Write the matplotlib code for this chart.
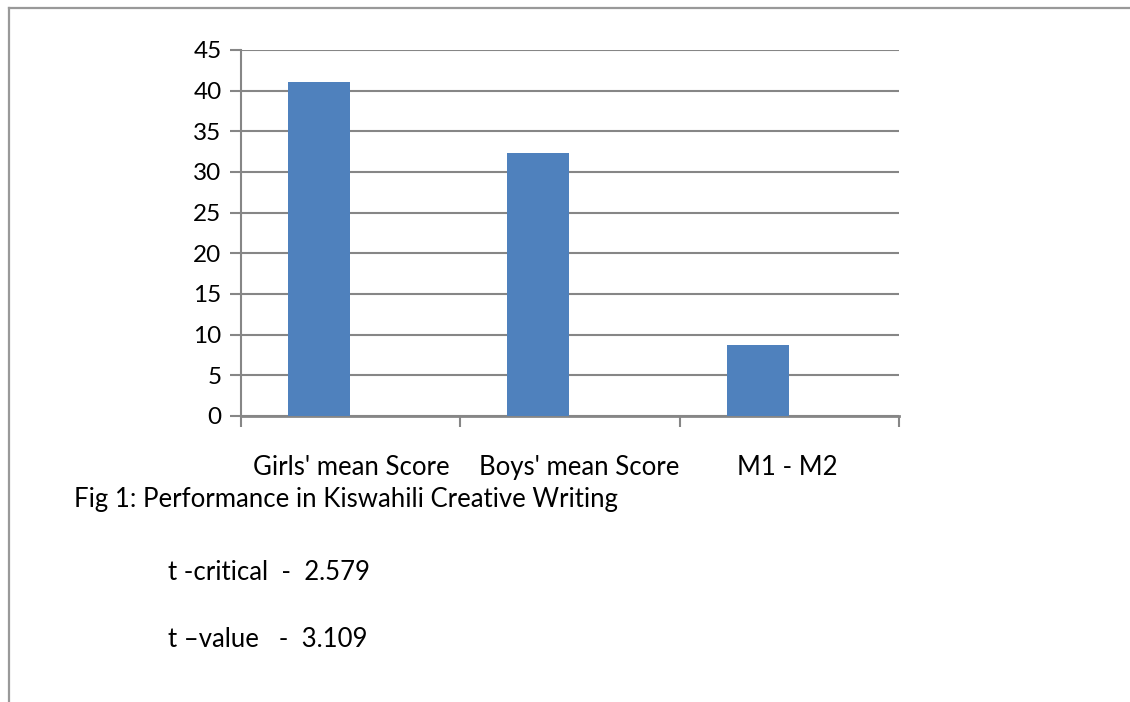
import matplotlib
matplotlib.use("Agg")
from matplotlib import pyplot as plt
from matplotlib.lines import Line2D

plt.rcParams['font.family'] = ['Lato', 'DejaVu Sans']

categories = ["Girls' mean Score", "Boys' mean Score", "M1 - M2"]
scores = [41.1, 32.3, 8.75]
yticks = [0, 5, 10, 15, 20, 25, 30, 35, 40, 45]

W, H = 1130, 702
fig = plt.figure(figsize=(W / 100, H / 100), dpi=100)
grey = '#868686'

# page border (top and left only)
fig.add_artist(Line2D([9 / W, 1.0], [1 - 8 / H, 1 - 8 / H], color='#999999', lw=1.6))
fig.add_artist(Line2D([9 / W, 9 / W], [0.0, 1 - 8 / H], color='#999999', lw=1.6))

ax = fig.add_axes([241 / W, 1 - 416 / H, 658 / W, 366 / H])

pos = [i + 0.356 for i in range(len(categories))]
ax.bar(pos, scores, width=0.283, color='#4f81bd', zorder=3)

ax.set_xlim(0, 3)
ax.set_ylim(0, 45)
ax.set_yticks(yticks)
ax.set_yticklabels([str(v) for v in yticks], fontsize=17.5)
ax.yaxis.grid(True, color=grey, lw=1.5, zorder=0)

ax.set_xticks([0, 1, 2, 3])
ax.set_xticklabels([])
# category labels sit between the tick marks
ax.set_xticks([0.505, 1.54, 2.49], minor=True)
ax.set_xticklabels(categories, minor=True, fontsize=18.5)
ax.tick_params(axis='x', which='minor', length=0, pad=28)
ax.tick_params(axis='x', which='major', length=8, width=1.5, color=grey)
ax.tick_params(axis='y', length=8, width=1.5, color=grey, pad=6)

for s in ['top', 'right']:
    ax.spines[s].set_visible(False)
ax.spines['left'].set_color(grey)
ax.spines['left'].set_linewidth(1.5)
ax.spines['bottom'].set_color(grey)
ax.spines['bottom'].set_linewidth(2)

fig.text(74 / W, 1 - 507 / H, "Fig 1: Performance in Kiswahili Creative Writing",
         fontsize=18.5, va='baseline', ha='left')
fig.text(168 / W, 1 - 580 / H, "t -critical  -  2.579", fontsize=18.5, va='baseline', ha='left')
fig.text(168 / W, 1 - 647 / H, "t \u2013value   -  3.109", fontsize=18.5, va='baseline', ha='left')

fig.savefig("out.png", dpi=100, facecolor='white')
